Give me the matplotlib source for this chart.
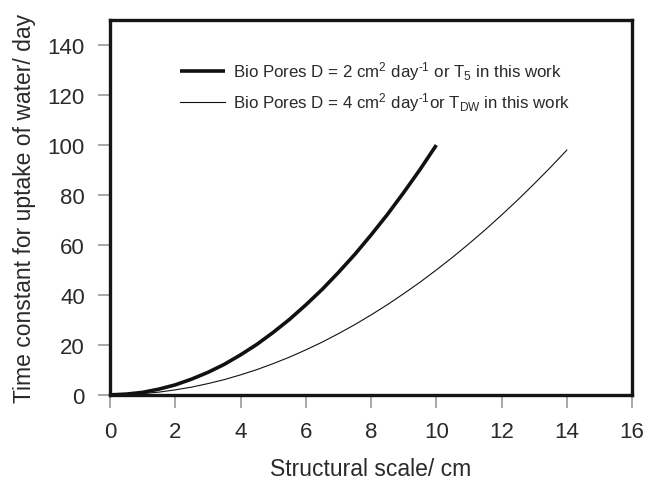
import matplotlib
matplotlib.use("Agg")
import matplotlib.pyplot as plt

plt.rcParams['font.family'] = ['Liberation Sans', 'DejaVu Sans']
plt.rcParams['mathtext.fontset'] = 'custom'
plt.rcParams['mathtext.rm'] = 'Liberation Sans'
plt.rcParams['mathtext.it'] = 'Liberation Sans'
plt.rcParams['mathtext.bf'] = 'Liberation Sans:bold'
plt.rcParams['mathtext.default'] = 'regular'

# Data
x_d2 = [0, 0.5, 1, 1.5, 2, 2.5, 3, 3.5, 4, 4.5, 5, 5.5, 6, 6.5, 7, 7.5, 8, 8.5, 9, 9.5, 10]
t_d2 = [0, 0.3, 1, 2.3, 4, 6.3, 9, 12.2, 16, 20.2, 25, 30.2, 36, 42.2, 49, 56.2, 64, 72.2, 81, 90.2, 100]

x_d4 = [0, 0.5, 1, 1.5, 2, 2.5, 3, 3.5, 4, 4.5, 5, 5.5, 6, 6.5, 7, 7.5, 8, 8.5, 9, 9.5,
        10, 10.5, 11, 11.5, 12, 12.5, 13, 13.5, 14]
t_d4 = [0, 0.1, 0.5, 1.1, 2, 3.1, 4.5, 6.1, 8, 10.1, 12.5, 15.1, 18, 21.1, 24.5, 28.1, 32, 36.1, 40.5, 45.1,
        50, 55.1, 60.5, 66.1, 72, 78.1, 84.5, 91.1, 98]

label_d2 = r'Bio Pores D = 2 cm$^{2}$ day$^{\text{-}1}$ or T$_{5}$ in this work'
label_d4 = r'Bio Pores D = 4 cm$^{2}$ day$^{\text{-}1}$or T$_{DW}$ in this work'

xticks = [0, 2, 4, 6, 8, 10, 12, 14, 16]
yticks = [0, 20, 40, 60, 80, 100, 120, 140]

fig = plt.figure(figsize=(6.47, 4.81), dpi=100)
ax = fig.add_axes([0.170, 0.177, 0.807, 0.779])

text_color = '#2a2a2a'
ax.plot(x_d2, t_d2, color='#111111', lw=2.6, label=label_d2, solid_capstyle='butt')
ax.plot(x_d4, t_d4, color='#111111', lw=0.8, label=label_d4)

ax.set_xlim(0, 16)
ax.set_ylim(0, 150)
ax.set_xticks(xticks)
ax.set_yticks(yticks)
ax.tick_params(axis='both', direction='out', length=9, width=1.2, color='#999999',
               labelsize=16, labelcolor=text_color)
ax.tick_params(axis='y', pad=9)
ax.tick_params(axis='x', pad=10)
for s in ax.spines.values():
    s.set_linewidth(2.4)
    s.set_color('#151515')

ax.set_xlabel('Structural scale/ cm', fontsize=16.5, color=text_color, va='center')
ax.set_ylabel('Time constant for uptake of water/ day', fontsize=16.5, color=text_color, va='center')
ax.xaxis.set_label_coords(0.5, (396 - 470) / 375)
ax.yaxis.set_label_coords((25 - 110) / 522, 0.5)

leg = ax.legend(loc='upper left', bbox_to_anchor=(0.122, 0.913), frameon=False,
                fontsize=12.2, handlelength=2.6, handletextpad=0.5, labelspacing=0.46,
                labelcolor=text_color, borderaxespad=0.0)

fig.savefig('out.png', dpi=100, facecolor='white')
